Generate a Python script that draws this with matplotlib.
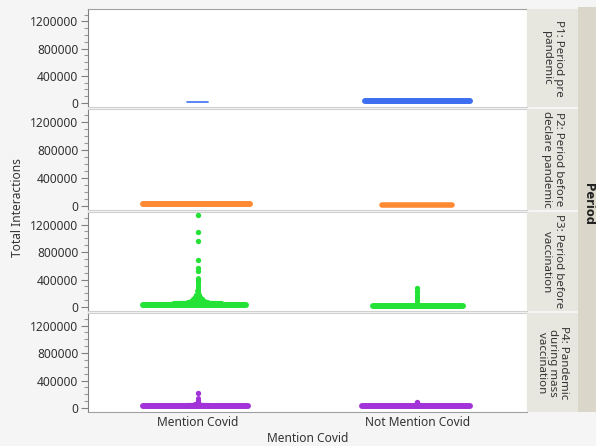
import matplotlib
matplotlib.use("Agg")
import matplotlib.pyplot as plt
from matplotlib.ticker import MultipleLocator

plt.rcParams["font.family"] = ["Noto Sans", "DejaVu Sans"]
plt.rcParams["font.size"] = 8.6

CATEGORIES = ["Mention Covid", "Not Mention Covid"]
PERIODS = [
    "P1: Period pre\npandemic",
    "P2: Period before\ndeclare pandemic",
    "P3: Period before\nvaccination",
    "P4: Pandemic\nduring mass\nvaccination",
]
COLORS = ["#3d6ff0", "#ff8a33", "#24e336", "#a233d8"]

# typical (bulk) value of each jittered band, per period x category
BAND_LEVEL = [[15000, 25000], [25000, 20000], [25000, 22000], [25000, 25000]]
# top of the dense column of points rising out of the band (0 = none)
COLUMN_TOP = [[0, 40000], [0, 0], [420000, 200000], [150000, 70000]]
# isolated points above the column
OUTLIERS = [
    [[], []],
    [[], []],
    [[1346000, 1093000, 961000, 688000, 566000, 527000, 395000],
     [274000, 240000]],
    [[220000], [85000]],
]
# flared base of the columns: values and how far the jitter spreads there
FLARE_VALUES = [[[], []],
                [[], []],
                [[230000, 180000, 140000, 110000, 90000, 75000, 62000, 52000], []],
                [[60000, 45000], [45000]]]

# jitter spread (category units) and band thickness in points
BAND_SPAN = [[(-0.05, 0.045), (-0.24, 0.24)],
             [(-0.25, 0.24), (-0.16, 0.16)],
             [(-0.25, 0.22), (-0.20, 0.21)],
             [(-0.25, 0.23), (-0.25, 0.24)]]
BAND_LW = [[1.2, 4.3], [4.3, 4.0], [4.3, 4.3], [4.3, 4.3]]
FLARE_HALF = [[[], []],
              [[], []],
              [[0.004, 0.008, 0.014, 0.022, 0.032, 0.045, 0.07, 0.11], []],
              [[0.012, 0.05], [0.015]]]

W, H = 596, 446
fig = plt.figure(figsize=(W / 100, H / 100), dpi=100)
fig.patch.set_facecolor("#f5f5f5")

left, right = 88 / W, 527 / W
edges = [7, 107, 210, 311, 412]
for i in range(4):
    top = 1 - edges[i] / H
    bot = 1 - edges[i + 1] / H
    ax = fig.add_axes([left, bot, right - left, top - bot - 1.5 / H])

    for j in range(2):
        c = COLORS[i]
        lo, hi = BAND_SPAN[i][j]
        ax.plot([j + lo, j + hi], [BAND_LEVEL[i][j]] * 2, color=c,
                lw=BAND_LW[i][j], solid_capstyle="round", zorder=3)
        if COLUMN_TOP[i][j]:
            ax.plot([j, j], [BAND_LEVEL[i][j], COLUMN_TOP[i][j]], color=c,
                    lw=3.6, solid_capstyle="round", zorder=3)
        for v, hw in zip(FLARE_VALUES[i][j], FLARE_HALF[i][j]):
            ax.plot([j - hw, j + hw], [v, v], color=c, lw=3.0,
                    solid_capstyle="round", zorder=3)
        if OUTLIERS[i][j]:
            ax.scatter([j] * len(OUTLIERS[i][j]), OUTLIERS[i][j], s=15,
                       color=c, linewidths=0, zorder=4)
    if i == 2:
        # left half of the band rises slightly toward the spike
        ax.plot([-0.25, -0.03], [BAND_LEVEL[i][0] + 5000, BAND_LEVEL[i][0] + 30000],
                color=COLORS[i], lw=3.0, solid_capstyle="round", zorder=3)

    ax.set_xlim(-0.5, 1.5)
    ax.set_ylim(-58000, 1390000)
    ax.set_facecolor("white")
    ax.yaxis.set_major_locator(MultipleLocator(400000))
    ax.yaxis.set_minor_locator(MultipleLocator(100000))
    ax.yaxis.set_major_formatter(plt.FuncFormatter(lambda v, p: f"{int(v)}"))
    ax.tick_params(axis="y", which="major", length=5, width=0.8, color="#808080",
                   labelsize=8.6, labelcolor="#333333", pad=2)
    ax.tick_params(axis="y", which="minor", length=3, width=0.8, color="#9a9a9a")
    for s in ["top", "right", "bottom"]:
        ax.spines[s].set_color("#d0d0d0")
    ax.spines["left"].set_color("#808080")
    if i == 0:
        ax.spines["top"].set_color("#a0a0a0")
    if i < 3:
        ax.set_xticks([])
    else:
        ax.spines["bottom"].set_color("#a0a0a0")
        ax.set_xticks([0, 1])
        ax.set_xticklabels(CATEGORIES, color="#333333")
        ax.tick_params(axis="x", length=0, pad=3)
        ax.set_xlabel("Mention Covid", color="#333333", labelpad=2)

    # strip label for each period
    sax = fig.add_axes([527 / W, bot, 51 / W, top - bot - 2 / H])
    sax.set_facecolor("#e8e7df")
    sax.set_xticks([])
    sax.set_yticks([])
    for s in sax.spines.values():
        s.set_visible(False)
    sax.text(0.5, 0.5, PERIODS[i], rotation=-90, ha="center", va="center",
             color="#333333", fontsize=8.3, linespacing=1.05,
             transform=sax.transAxes)

oax = fig.add_axes([578 / W, 1 - 412 / H, 18 / W, (412 - 7) / H])
oax.set_facecolor("#dad7ca")
oax.set_xticks([])
oax.set_yticks([])
for s in oax.spines.values():
    s.set_visible(False)
oax.text(0.6, 1 - (204 - 7) / (412 - 7), "Period", rotation=-90, ha="center",
         va="center", fontweight="bold", family=["DejaVu Sans"], color="#222222",
         fontsize=8.3, transform=oax.transAxes)

fig.text(18 / W, 1 - 208 / H, "Total Interactions", rotation=90, ha="center",
         va="center", color="#333333", fontsize=8.6)

fig.savefig("out.png", dpi=100, facecolor=fig.get_facecolor())
